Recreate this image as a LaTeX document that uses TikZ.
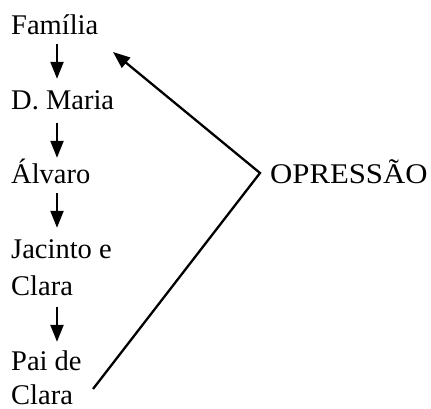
\documentclass[tikz,border=0pt]{standalone}
\usepackage{fontspec}
\setmainfont{Liberation Serif}
\usetikzlibrary{arrows.meta}
\begin{document}
\begin{tikzpicture}[x=1pt,y=1pt,
  lbl/.style={anchor=base west,inner sep=0pt,text height=20pt,text depth=4pt,font=\fontsize{28.5}{34}\selectfont},
  arr/.style={line width=2.3pt,-{Triangle[length=17pt,width=13pt]}}]
\useasboundingbox (0,0) rectangle (431,-409);
\node[lbl] (fam) at (11,-35) {Família};
\node[lbl] (dm) at (11,-110) {D. Maria};
\node[lbl] (alv) at (11,-183) {Álvaro};
\node[lbl] (jac) at (11,-258) {Jacinto e};
\node[lbl] (cl1) at (11,-295) {Clara};
\node[lbl] (pai) at (11,-370) {Pai de};
\node[lbl] (cl2) at (11,-404) {Clara};
\node[lbl] (opr) at (270,-183) {\scalebox{1.08}[1]{OPRESSÃO}};
\coordinate (ax) at (57,0);
\coordinate (v) at (260,-173);
\coordinate (t1) at (113,-52);
\coordinate (t2) at (93,-389);
\draw[arr,shorten <=5pt,shorten >=11pt] (fam.south -| ax) -- (dm.north -| ax);
\draw[arr,shorten <=9pt,shorten >=5pt] (dm.south -| ax) -- (alv.north -| ax);
\draw[arr,shorten <=6pt,shorten >=10pt] (alv.south -| ax) -- (jac.north -| ax);
\draw[arr,shorten <=8pt,shorten >=8pt] (cl1.south -| ax) -- (pai.north -| ax);
\draw[arr,line join=miter] (t2) -- (v) -- (t1);
\end{tikzpicture}
\end{document}
